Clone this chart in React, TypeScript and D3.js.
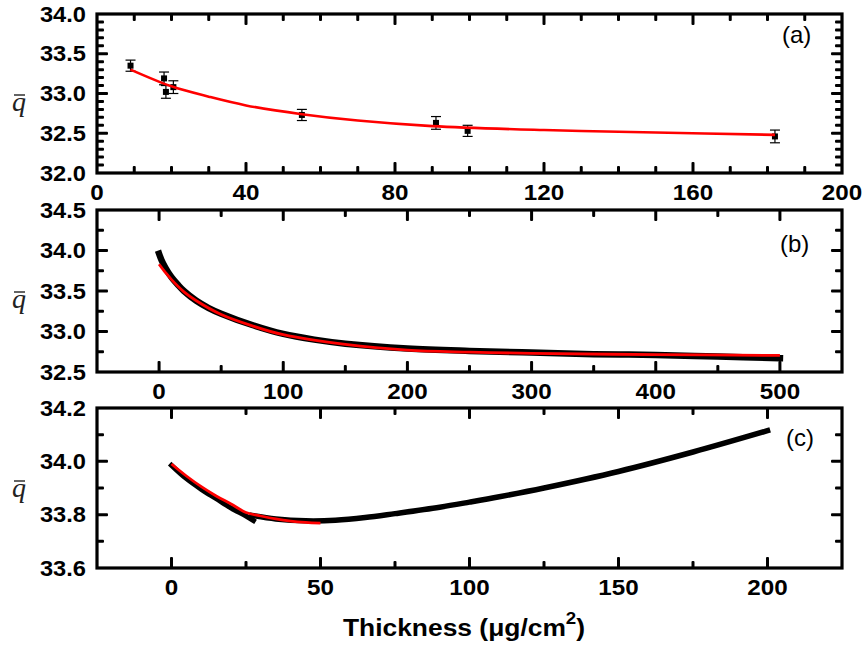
import React from 'react';
import * as d3 from 'd3';

// ---------- Panel (a) data ----------
const aX = [9, 18, 18.5, 20.5, 55, 91, 99.5, 182];
const aY = [33.35, 33.19, 33.02, 33.08, 32.73, 32.63, 32.53, 32.46];
const aErr = [0.07, 0.08, 0.08, 0.08, 0.07, 0.08, 0.07, 0.08];
const aFitX = [9, 20, 30, 40, 55, 70, 90, 120, 150, 182];
const aFitY = [33.30, 33.09, 32.96, 32.85, 32.74, 32.66, 32.59, 32.54, 32.51, 32.48];

// ---------- Panel (b) data ----------
const bX = [0, 2, 5, 10, 15, 20, 30, 40, 50, 75, 100, 125, 150, 200, 250, 300, 350, 400, 450, 500];
const bY = [33.96, 33.88, 33.79, 33.67, 33.58, 33.50, 33.38, 33.29, 33.22, 33.08, 32.97, 32.90, 32.85, 32.79, 32.76, 32.74, 32.72, 32.71, 32.69, 32.67];
const bFitX = [0, 5, 10, 20, 30, 50, 75, 100, 150, 200, 250, 300, 400, 500];
const bFitY = [33.83, 33.73, 33.64, 33.49, 33.38, 33.21, 33.07, 32.96, 32.84, 32.77, 32.745, 32.73, 32.715, 32.705];

// ---------- Panel (c) data ----------
const c1X = [0, 5, 10, 15, 20, 25, 27.5];
const c1Y = [33.985, 33.935, 33.895, 33.86, 33.825, 33.795, 33.778];
const c2X = [27, 35, 45, 55, 65, 75, 90, 100, 110, 125, 150, 175, 200];
const c2Y = [33.797, 33.784, 33.777, 33.779, 33.789, 33.804, 33.828, 33.847, 33.867, 33.90, 33.962, 34.035, 34.115];
const cFitX = [0, 5, 10, 15, 20, 25, 30, 35, 40, 45, 50];
const cFitY = [33.99, 33.945, 33.905, 33.87, 33.84, 33.808, 33.795, 33.784, 33.776, 33.771, 33.768];

// ---------- Axis ticks ----------
const aXTicks = [0, 40, 80, 120, 160, 200];
const aYTicks = [32.0, 32.5, 33.0, 33.5, 34.0];
const bXTicks = [0, 100, 200, 300, 400, 500];
const bYTicks = [32.5, 33.0, 33.5, 34.0, 34.5];
const cXTicks = [0, 50, 100, 150, 200];
const cYTicks = [33.6, 33.8, 34.0, 34.2];

const LEFT = 97;
const RIGHT = 842;
const FONT = 'Liberation Sans, Arial, Helvetica, sans-serif';

type Scale = d3.ScaleLinear<number, number>;
type PanelProps = {
  id: string;
  top: number;
  bottom: number;
  xDomain: [number, number];
  yDomain: [number, number];
  xTicks: number[];
  xMinorStep: number;
  yTicks: number[];
  yMinorStep: number;
  xFmt: (v: number) => string;
  yFmt: (v: number) => string;
  tag: string;
  tagPos: [number, number];
  render: (x: Scale, y: Scale) => React.ReactNode;
};

function Panel(p: PanelProps) {
  const x = d3.scaleLinear().domain(p.xDomain).range([LEFT, RIGHT]);
  const y = d3.scaleLinear().domain(p.yDomain).range([p.bottom, p.top]);
  const isMajor = (arr: number[], v: number) => arr.some((t) => Math.abs(t - v) < 1e-6);
  const nx = Math.round((p.xDomain[1] - p.xDomain[0]) / p.xMinorStep);
  const ny = Math.round((p.yDomain[1] - p.yDomain[0]) / p.yMinorStep);
  const xAll = d3.range(1, nx).map((i) => p.xDomain[0] + i * p.xMinorStep);
  const yAll = d3.range(1, ny).map((i) => p.yDomain[0] + i * p.yMinorStep);
  const MAJ = 11;
  const MIN = 7;
  const W = 3;
  return (
    <g>
      <defs>
        <clipPath id={`clip-${p.id}`}>
          <rect x={LEFT} y={p.top} width={RIGHT - LEFT} height={p.bottom - p.top} />
        </clipPath>
      </defs>
      <g clipPath={`url(#clip-${p.id})`}>{p.render(x, y)}</g>
      {xAll.map((t, i) => {
        const L = isMajor(p.xTicks, t) ? MAJ : MIN;
        const px = x(t);
        return (
          <g key={`xt${i}`}>
            <rect x={px - W / 2} y={p.bottom - L} width={W} height={L} rx={1} fill="#000" />
            <rect x={px - W / 2} y={p.top} width={W} height={L} rx={1} fill="#000" />
          </g>
        );
      })}
      {yAll.map((t, i) => {
        const L = isMajor(p.yTicks, t) ? MAJ : MIN;
        const py = y(t);
        return (
          <g key={`yt${i}`}>
            <rect x={LEFT} y={py - W / 2} width={L} height={W} rx={1} fill="#000" />
            <rect x={RIGHT - L} y={py - W / 2} width={L} height={W} rx={1} fill="#000" />
          </g>
        );
      })}
      <rect x={LEFT} y={p.top} width={RIGHT - LEFT} height={p.bottom - p.top} fill="none" stroke="#000" strokeWidth={3.2} />
      {p.xTicks.map((t) => (
        <text key={`xl${t}`} transform={`translate(${x(t)},${p.bottom + 27}) scale(1.1,1)`} textAnchor="middle"
          fontFamily={FONT} fontWeight="bold" fontSize={22} fill="#000">{p.xFmt(t)}</text>
      ))}
      {p.yTicks.map((t) => (
        <text key={`yl${t}`} transform={`translate(86,${y(t)}) scale(1.1,1)`} dy="0.36em" textAnchor="end"
          fontFamily={FONT} fontWeight="bold" fontSize={21.5} fill="#000">{p.yFmt(t)}</text>
      ))}
      <text x={p.tagPos[0]} y={p.tagPos[1]} fontFamily={FONT} fontSize={24} fill="#000">{p.tag}</text>
    </g>
  );
}

function QBar({ cy }: { cy: number }) {
  return (
    <g>
      <text x={12} y={cy + 7} fontFamily="Liberation Serif, Times New Roman, serif" fontStyle="italic" fontSize={28} fill="#222">q</text>
      <line x1={14} x2={25} y1={cy - 9} y2={cy - 9} stroke="#222" strokeWidth={1.4} />
    </g>
  );
}

export default function App() {
  const fmt0 = d3.format('d');
  const fmt1 = d3.format('.1f');
  const zip = (xs: number[], ys: number[]) => xs.map((v, i) => [v, ys[i]] as [number, number]);
  const mkLine = (x: Scale, y: Scale) =>
    d3.line<[number, number]>().x((d) => x(d[0])).y((d) => y(d[1])).curve(d3.curveCatmullRom.alpha(0.5));

  return (
    <svg width={865} height={656} style={{ position: 'absolute', left: 0, top: 0, background: '#fff' }}>
      <rect x={0} y={0} width={865} height={656} fill="#fff" />
      <Panel
        id="a" top={14} bottom={173} xDomain={[0, 200]} yDomain={[32.0, 34.0]}
        xTicks={aXTicks} xMinorStep={10} yTicks={aYTicks} yMinorStep={0.1}
        xFmt={fmt0} yFmt={fmt1} tag="(a)" tagPos={[782, 43]}
        render={(x, y) => {
          const line = mkLine(x, y);
          return (
            <g>
              {aX.map((v, i) => (
                <g key={i}>
                  <line x1={x(v)} x2={x(v)} y1={y(aY[i] - aErr[i])} y2={y(aY[i] + aErr[i])} stroke="#000" strokeWidth={1.2} />
                  <line x1={x(v) - 5} x2={x(v) + 5} y1={y(aY[i] - aErr[i])} y2={y(aY[i] - aErr[i])} stroke="#000" strokeWidth={1.2} />
                  <line x1={x(v) - 5} x2={x(v) + 5} y1={y(aY[i] + aErr[i])} y2={y(aY[i] + aErr[i])} stroke="#000" strokeWidth={1.2} />
                  <rect x={x(v) - 3} y={y(aY[i]) - 3} width={6} height={6} fill="#000" />
                </g>
              ))}
              <path d={line(zip(aFitX, aFitY)) || ''} fill="none" stroke="#ff0000" strokeWidth={2.6} />
            </g>
          );
        }}
      />
      <Panel
        id="b" top={210} bottom={372} xDomain={[-50, 550]} yDomain={[32.5, 34.5]}
        xTicks={bXTicks} xMinorStep={50} yTicks={bYTicks} yMinorStep={0.25}
        xFmt={fmt0} yFmt={fmt1} tag="(b)" tagPos={[780, 252]}
        render={(x, y) => {
          const line = mkLine(x, y);
          return (
            <g>
              <path d={line(zip(bX, bY)) || ''} fill="none" stroke="#000" strokeWidth={6.5} strokeLinecap="square" />
              <path d={line(zip(bFitX, bFitY)) || ''} fill="none" stroke="#ff0000" strokeWidth={2.8} />
            </g>
          );
        }}
      />
      <Panel
        id="c" top={408} bottom={568} xDomain={[-25, 225]} yDomain={[33.6, 34.2]}
        xTicks={cXTicks} xMinorStep={25} yTicks={cYTicks} yMinorStep={0.1}
        xFmt={fmt0} yFmt={fmt1} tag="(c)" tagPos={[786, 446]}
        render={(x, y) => {
          const line = mkLine(x, y);
          return (
            <g>
              <path d={line(zip(c1X, c1Y)) || ''} fill="none" stroke="#000" strokeWidth={5} strokeLinecap="square" />
              <path d={line(zip(c2X, c2Y)) || ''} fill="none" stroke="#000" strokeWidth={5.5} strokeLinecap="square" />
              <path d={line(zip(cFitX, cFitY)) || ''} fill="none" stroke="#ff0000" strokeWidth={2.8} />
            </g>
          );
        }}
      />
      <QBar cy={104} />
      <QBar cy={301} />
      <QBar cy={490} />
      <text transform="translate(464,636) scale(1.1,1)" textAnchor="middle" fontFamily={FONT} fontWeight="bold" fontSize={24} fill="#000">
        Thickness (μg/cm<tspan dy={-12} fontSize={17}>2</tspan><tspan dy={12}>)</tspan>
      </text>
    </svg>
  );
}
